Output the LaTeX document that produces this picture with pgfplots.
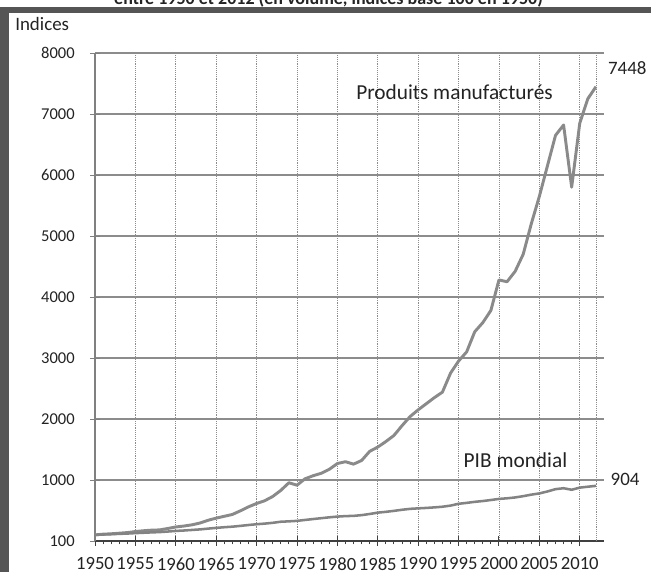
\documentclass[border=0pt]{standalone}
\usepackage{pgfplots}
\usepackage{pgfplotstable}
\pgfplotsset{compat=1.18}
\usepackage{fontspec}
\setmainfont{Carlito}
\definecolor{framec}{RGB}{85,85,85}
\definecolor{txt}{RGB}{35,35,35}
\definecolor{gridc}{RGB}{140,140,140}
\definecolor{linec}{RGB}{138,138,138}

\pgfplotstableread{
year val
1950 100
1951 112
1952 118
1953 128
1954 138
1955 155
1956 168
1957 178
1958 182
1959 205
1960 230
1961 245
1962 265
1963 295
1964 340
1965 375
1966 405
1967 435
1968 495
1969 560
1970 615
1971 660
1972 730
1973 830
1974 955
1975 915
1976 1020
1977 1070
1978 1110
1979 1175
1980 1270
1981 1300
1982 1260
1983 1320
1984 1470
1985 1540
1986 1630
1987 1730
1988 1890
1989 2040
1990 2150
1991 2250
1992 2350
1993 2440
1994 2750
1995 2950
1996 3100
1997 3430
1998 3580
1999 3780
2000 4280
2001 4250
2002 4420
2003 4700
2004 5200
2005 5650
2006 6150
2007 6650
2008 6820
2009 5800
2010 6850
2011 7250
2012 7448
}\manuf

\pgfplotstableread{
year val
1950 100
1951 106
1952 111
1953 117
1954 122
1955 129
1956 135
1957 141
1958 146
1959 155
1960 165
1961 172
1962 181
1963 190
1964 203
1965 215
1966 226
1967 235
1968 248
1969 262
1970 275
1971 285
1972 298
1973 316
1974 322
1975 330
1976 345
1977 360
1978 374
1979 388
1980 400
1981 408
1982 412
1983 424
1984 443
1985 465
1986 478
1987 494
1988 512
1989 527
1990 535
1991 542
1992 551
1993 562
1994 580
1995 610
1996 625
1997 642
1998 655
1999 672
2000 690
2001 700
2002 714
2003 735
2004 760
2005 780
2006 812
2007 850
2008 865
2009 840
2010 875
2011 890
2012 904
}\pib

\begin{document}
\begin{tikzpicture}
\useasboundingbox (0,0) rectangle (488.25pt,429pt);
\fill[framec] (0,0) rectangle (6.4pt,423.75pt);
\fill[framec] (0,419.25pt) rectangle (488.25pt,423.75pt);
\node[anchor=base, inner sep=0pt, font=\bfseries\fontsize{13.5}{16}\selectfont, text=txt] at (246.4pt,425.6pt) {entre 1950 et 2012 (en volume, indices base 100 en 1950)};
\node[anchor=base west, inner sep=0pt, font=\fontsize{14.2}{17}\selectfont, text=txt] at (11.25pt,405.75pt) {Indices};
\begin{axis}[
  at={(71.25pt,23.25pt)}, anchor=south west,
  scale only axis, width=381.75pt, height=366pt,
  xmin=1950, xmax=2013, ymin=0, ymax=8000,
  axis lines=left, axis line style={-},
  x axis line style={draw=black!75, line width=0.8pt},
  y axis line style={draw=black!50, line width=0.8pt},
  xtick={1950,1955,1960,1965,1970,1975,1980,1985,1990,1995,2000,2005,2010},
  xticklabels={1950,1955,1960,1965,1970,1975,1980,1985,1990,1995,2000,2005,2010},
  minor x tick num=4,
  ytick={0,1000,2000,3000,4000,5000,6000,7000,8000},
  yticklabels={100,1000,2000,3000,4000,5000,6000,7000,8000},
  extra x ticks={2012},
  extra x tick labels={},
  extra x tick style={grid=major, major tick length=0pt},
  tick align=center,
  major tick length=7.5pt,
  minor tick length=2.6pt,
  minor x tick style={yshift=-1.3pt},
  tick style={draw=black!75, line width=0.7pt},
  ytick style={draw=black!50},
  xmajorgrids, ymajorgrids,
  major x grid style={densely dotted, draw=black!45, line width=0.6pt},
  major y grid style={draw=gridc, line width=0.9pt},
  xticklabel style={font=\fontsize{14}{16}\selectfont, text=txt, anchor=north, inner sep=0pt, yshift=-8.5pt},
  yticklabel style={font=\fontsize{12.4}{14}\selectfont, text=txt, anchor=east, inner sep=0pt, xshift=-11.25pt},
  clip=false,
]
\addplot[line width=2.2pt, color=linec, line join=round] table[x=year, y=val] {\manuf};
\addplot[line width=1.9pt, color=linec!95!black, line join=round] table[x=year, y=val] {\pib};
\node[anchor=base, inner sep=0pt, font=\fontsize{16}{19}\selectfont, text=txt] at (axis cs:1994.5,7246) {Produits manufacturés};
\node[anchor=base west, inner sep=0pt, font=\fontsize{14.2}{17}\selectfont, text=txt] at (axis cs:2013.47,7651) {7448};
\node[anchor=base west, inner sep=0pt, font=\fontsize{16}{19}\selectfont, text=txt] at (axis cs:1995.6,1213) {PIB mondial};
\node[anchor=base west, inner sep=0pt, font=\fontsize{14.2}{17}\selectfont, text=txt] at (axis cs:2013.8,902) {904};
\end{axis}
\end{tikzpicture}
\end{document}
